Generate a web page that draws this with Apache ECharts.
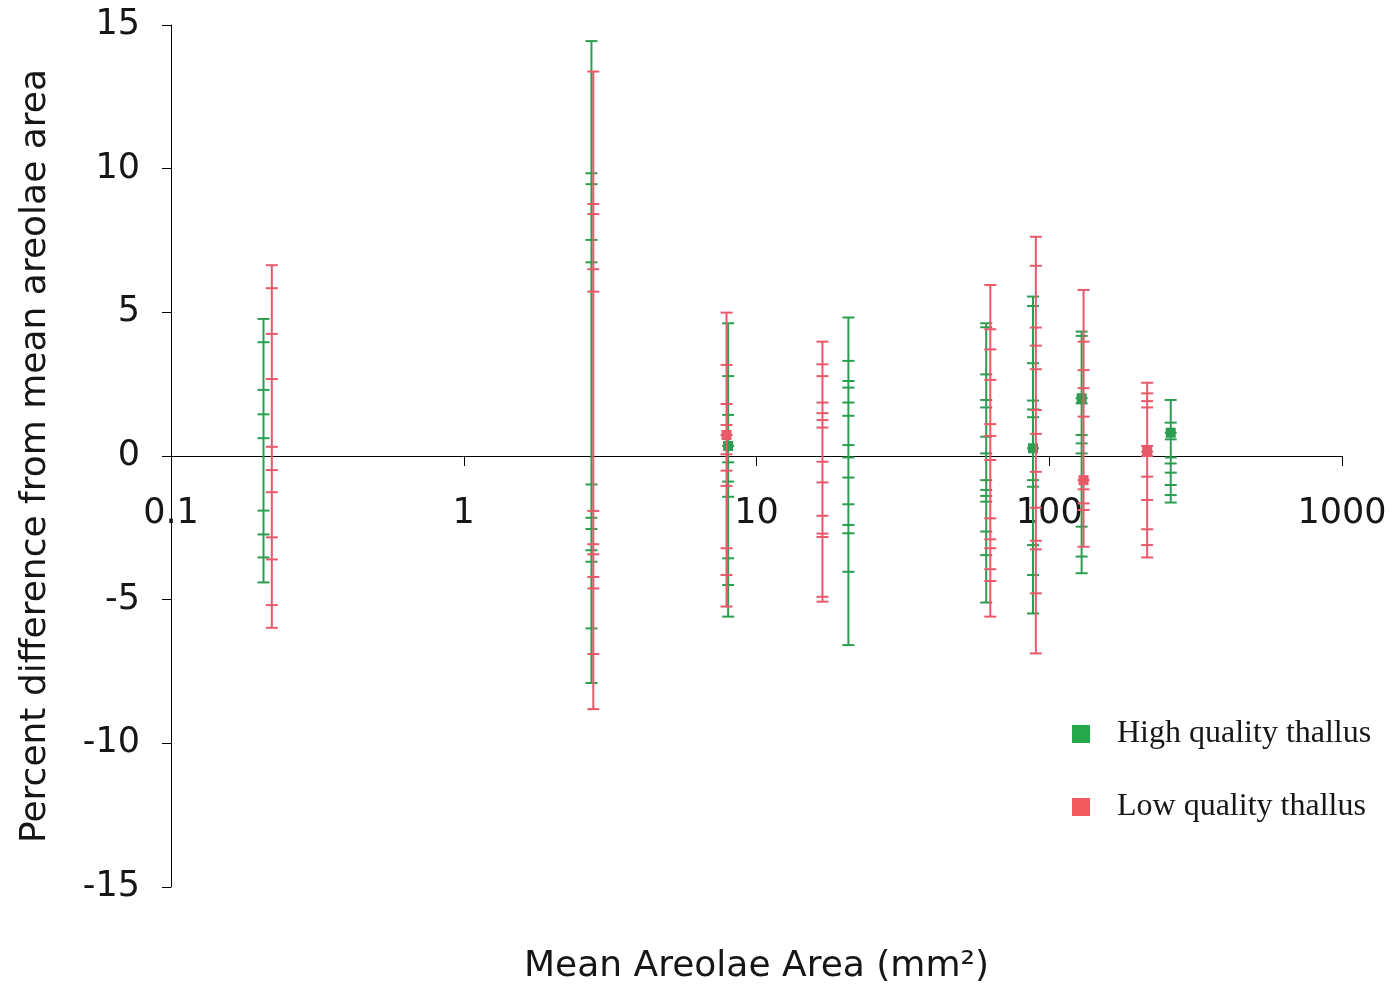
<!DOCTYPE html>
<html>
<head>
<meta charset="utf-8">
<script src="https://cdn.jsdelivr.net/npm/echarts@6/dist/echarts.min.js"></script>
<style>
  html, body { margin: 0; padding: 0; background: #ffffff; }
  #chart { width: 1393px; height: 988px; }
</style>
</head>
<body>
<div id="chart"></div>
<script>
// Tick labels of the logarithmic x axis
const xTickLabels = ['0.1', '1', '10', '100', '1000'];

// Mean areolae area (mm²) of each sample group
const highX = [0.207, 2.73, 8.0, 20.6, 60.9, 88, 129, 260];
const lowX  = [0.221, 2.77, 7.9, 16.8, 62.9, 90, 131, 216];

// Percent difference from the group's mean areolae area, one list per group
const highValues = [
  [4.77, 3.96, 2.30, 1.45, 0.62, -1.90, -2.73, -3.53, -4.40],
  [14.44, 9.84, 9.46, 7.52, 6.74, -0.99, -2.15, -2.54, -3.28, -3.68, -6.00, -7.90],
  [4.62, 2.78, 1.43, 0.35, -0.22, -0.89, -1.42, -3.56, -4.49, -5.59],
  [4.82, 3.31, 2.61, 2.38, 1.86, 1.40, 0.38, -0.05, -0.75, -1.68, -2.40, -2.69, -4.03, -6.58],
  [4.62, 4.48, 2.84, 1.95, 1.69, 0.67, 0.09, -0.84, -1.18, -1.39, -1.59, -2.63, -3.45, -5.10],
  [5.55, 5.22, 3.23, 1.93, 1.62, 1.35, 0.27, -0.84, -1.07, -3.10, -4.14, -5.48],
  [4.33, 4.18, 2.01, 1.83, 0.73, 0.44, 0.09, -2.46, -3.50, -4.08],
  [1.95, 1.16, 0.81, 0.58, -0.05, -0.26, -0.58, -1.01, -1.36, -1.62]
];
const lowValues = [
  [6.64, 5.84, 4.25, 2.68, 0.32, -0.49, -1.26, -2.83, -3.60, -5.19, -5.98],
  [13.38, 8.77, 8.42, 6.50, 5.72, -1.91, -3.07, -3.42, -4.21, -4.61, -6.89, -8.81],
  [4.99, 3.17, 1.81, 1.08, 0.73, 0.06, -0.51, -1.04, -3.21, -4.14, -5.24],
  [3.98, 3.19, 2.78, 1.86, 1.49, 1.25, 0.99, -0.20, -0.92, -2.08, -2.70, -2.82, -4.90, -5.07],
  [5.95, 4.41, 3.71, 2.65, 1.11, 0.70, -0.14, -2.17, -2.90, -3.21, -3.94, -4.35, -5.59],
  [7.63, 6.62, 4.47, 3.84, 3.02, 1.60, 0.77, -0.55, -1.80, -2.95, -3.25, -4.78, -6.87],
  [5.78, 3.98, 2.99, 2.36, 1.37, -0.84, -1.16, -1.65, -1.88, -3.16],
  [2.55, 2.18, 1.91, 1.69, 0.35, 0.15, 0.00, -0.72, -1.53, -2.55, -3.10, -3.53]
];

// Group means drawn as square markers (null where none is drawn)
const highMeans = [null, null, 0.35, null, null, 0.27, 2.01, 0.81];
const lowMeans  = [null, null, 0.73, null, null, null, -0.84, 0.15];

const GREEN = '#2b9f50';
const RED = '#e8596a';
const GREEN_KEY = '#27a74b';
const RED_KEY = '#f05a5e';

// Each group: a vertical line spanning its values, a short tick at every value
function groupRenderer(xs, vals, means, color) {
  return function (params, api) {
    const i = api.value(1);
    const x = xs[i];
    const v = vals[i];
    const top = api.coord([x, Math.max.apply(null, v)]);
    const bot = api.coord([x, Math.min.apply(null, v)]);
    const half = 6;
    const children = [{
      type: 'line',
      shape: { x1: top[0], y1: top[1], x2: bot[0], y2: bot[1] },
      style: { stroke: color, lineWidth: 2 }
    }];
    v.forEach(function (val) {
      const p = api.coord([x, val]);
      children.push({
        type: 'line',
        shape: { x1: p[0] - half, y1: p[1], x2: p[0] + half, y2: p[1] },
        style: { stroke: color, lineWidth: 2 }
      });
    });
    if (means[i] !== null) {
      const m = api.coord([x, means[i]]);
      children.push({
        type: 'rect',
        shape: { x: m[0] - 5, y: m[1] - 5, width: 10, height: 10 },
        style: { fill: color }
      });
    }
    return { type: 'group', children: children };
  };
}

const chart = echarts.init(document.getElementById('chart'), null, { renderer: 'canvas' });

const axisFont = 'DejaVu Sans';
const textColor = '#161616';
const PLOT_LEFT = 171, PLOT_RIGHT = 51, PLOT_TOP = 25, PLOT_BOTTOM = 101;
// pixel row of the zero line, which carries the x axis
const ZERO_Y = 456;

chart.setOption({
  backgroundColor: '#ffffff',
  animation: false,
  grid: [
    // data plot spanning -15..15
    { left: PLOT_LEFT, right: PLOT_RIGHT, top: PLOT_TOP, bottom: PLOT_BOTTOM, containLabel: false, outerBoundsMode: 'none' },
    // same horizontal extent, ending at the zero line: hosts the visible x axis
    { left: PLOT_LEFT, right: PLOT_RIGHT, top: PLOT_TOP, bottom: 988 - ZERO_Y, containLabel: false, outerBoundsMode: 'none' }
  ],
  legend: {
    orient: 'vertical',
    left: 1072,
    top: 718,
    padding: 0,
    itemWidth: 18,
    itemHeight: 18,
    itemGap: 41,
    icon: 'rect',
    data: [
      { name: 'High quality thallus', itemStyle: { color: GREEN_KEY } },
      { name: 'Low quality thallus', itemStyle: { color: RED_KEY } }
    ],
    textStyle: {
      fontFamily: 'Liberation Serif',
      fontSize: 32,
      color: textColor,
      padding: [0, 0, 0, 22],
      lineHeight: 32
    }
  },
  xAxis: [
    {
      gridIndex: 0,
      type: 'log',
      logBase: 10,
      min: 0.1,
      max: 1000,
      show: false
    },
    {
      gridIndex: 1,
      type: 'log',
      logBase: 10,
      min: 0.1,
      max: 1000,
      position: 'bottom',
      name: 'Mean Areolae Area (mm²)',
      nameLocation: 'middle',
      nameGap: 493,
      nameTextStyle: { fontFamily: axisFont, fontSize: 36, color: textColor },
      axisLine: { onZero: false, lineStyle: { color: '#000', width: 1 } },
      axisTick: { show: true, inside: false, length: 10, lineStyle: { color: '#000' } },
      minorTick: { show: false },
      splitLine: { show: false },
      axisLabel: {
        fontFamily: axisFont,
        fontSize: 35,
        color: textColor,
        margin: 40,
        formatter: function (val) {
          const k = Math.round(Math.log10(val)) + 1;
          return xTickLabels[k] !== undefined ? xTickLabels[k] : '';
        }
      }
    }
  ],
  yAxis: [
    {
      gridIndex: 0,
      type: 'value',
      min: -15,
      max: 15,
      interval: 5,
      name: 'Percent difference from mean areolae area',
      nameLocation: 'middle',
      nameGap: 117,
      nameTextStyle: { fontFamily: axisFont, fontSize: 36, color: textColor },
      axisLine: { show: true, onZero: false, lineStyle: { color: '#000', width: 1 } },
      axisTick: { show: true, inside: false, length: 9, lineStyle: { color: '#000' } },
      splitLine: { show: false },
      axisLabel: { fontFamily: axisFont, fontSize: 35, color: textColor, margin: 31, padding: [8, 0, 0, 0] }
    },
    {
      gridIndex: 1,
      type: 'value',
      min: 0,
      max: 15,
      show: false
    }
  ],
  series: [
    {
      name: 'High quality thallus',
      type: 'custom',
      xAxisIndex: 0,
      yAxisIndex: 0,
      itemStyle: { color: GREEN_KEY },
      renderItem: groupRenderer(highX, highValues, highMeans, GREEN),
      encode: { x: 0, y: 1 },
      data: highX.map(function (x, i) { return [x, i]; })
    },
    {
      name: 'Low quality thallus',
      type: 'custom',
      xAxisIndex: 0,
      yAxisIndex: 0,
      itemStyle: { color: RED_KEY },
      renderItem: groupRenderer(lowX, lowValues, lowMeans, RED),
      encode: { x: 0, y: 1 },
      data: lowX.map(function (x, i) { return [x, i]; })
    }
  ]
});
</script>
</body>
</html>
